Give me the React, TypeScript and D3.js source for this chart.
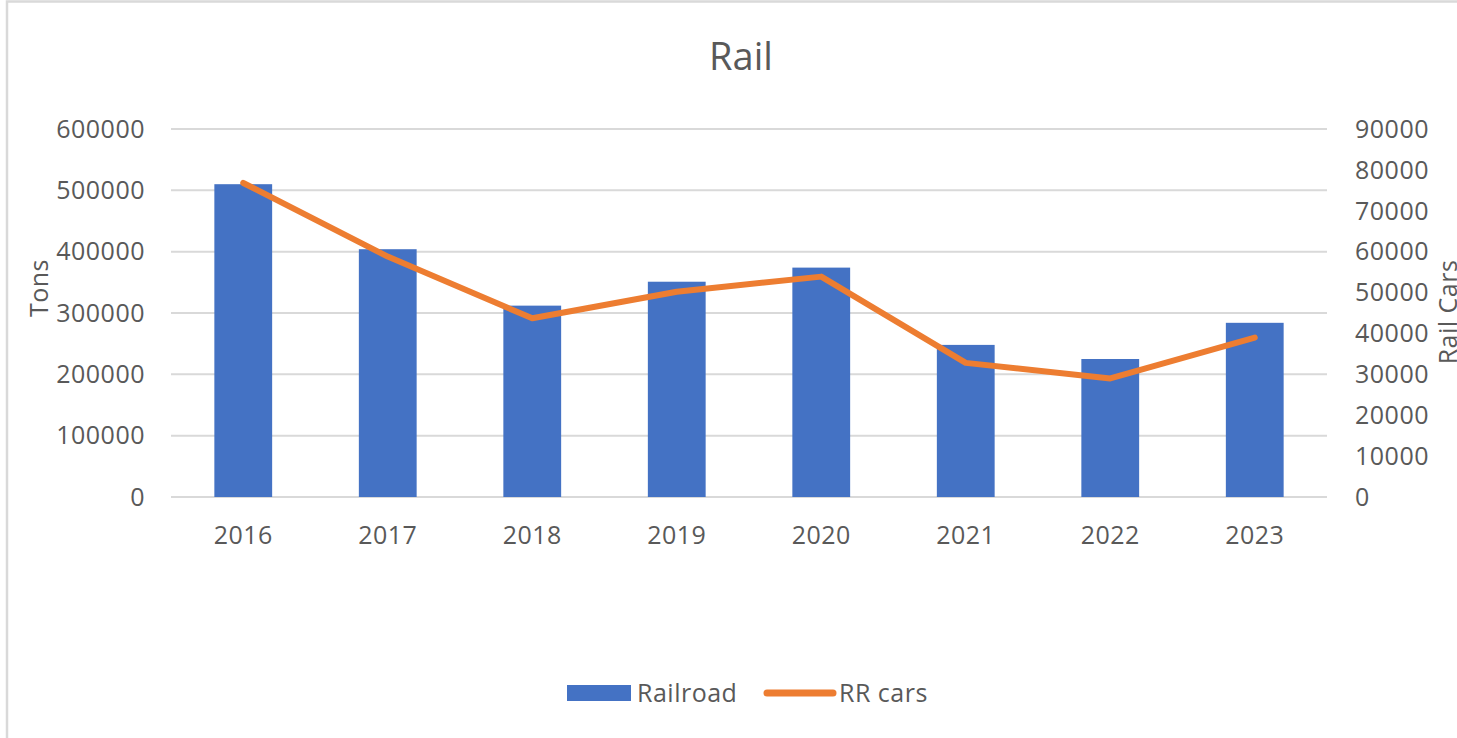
import React from "react";
import * as d3 from "d3";

const years = ["2016", "2017", "2018", "2019", "2020", "2021", "2022", "2023"];
const railroadTons = [510000, 404000, 312000, 351000, 374000, 248000, 225000, 284000];
const rrCars = [76800, 58800, 43700, 50200, 53900, 32800, 29000, 39000];
const leftTicks = [0, 100000, 200000, 300000, 400000, 500000, 600000];
const rightTicks = [0, 10000, 20000, 30000, 40000, 50000, 60000, 70000, 80000, 90000];

const W = 1457;
const H = 738;
const FONT = "'Open Sans', 'Noto Sans', sans-serif";
const TXT = "#595959";
const FS = 25;
const LS = 0.5;

export default function App() {
  const x0 = 171, x1 = 1327, yTop = 129, yBot = 497;
  const band = d3.scaleBand<string>().domain(years).range([x0, x1]);
  const yL = d3.scaleLinear().domain([0, 600000]).range([yBot, yTop]);
  const yR = d3.scaleLinear().domain([0, 90000]).range([yBot, yTop]);
  const cx = (d: string) => (band(d) as number) + band.bandwidth() / 2;
  const barW = band.bandwidth() / 2.5;
  const line = d3
    .line<number>()
    .x((_, i) => cx(years[i]))
    .y((d) => yR(d));

  return (
    <svg width={W} height={H} style={{ position: "absolute", left: 0, top: 0, background: "#fff" }} fontFamily={FONT}>
      <rect x={7} y={1.5} width={W + 20} height={H + 20} fill="#fff" stroke="#d9d9d9" strokeWidth={2.5} />
      <text x={741} y={70} textAnchor="middle" fontSize={38} fill={TXT}>Rail</text>

      {leftTicks.map((t) => (
        <line key={"g" + t} x1={x0} x2={x1} y1={yL(t)} y2={yL(t)} stroke="#d9d9d9" strokeWidth={2} />
      ))}

      {years.map((yr, i) => (
        <rect
          key={"b" + yr}
          x={cx(yr) - barW / 2}
          y={yL(railroadTons[i])}
          width={barW}
          height={yBot - yL(railroadTons[i])}
          fill="#4472C4"
        />
      ))}

      <path d={line(rrCars) || ""} fill="none" stroke="#ED7D31" strokeWidth={6} strokeLinejoin="round" strokeLinecap="round" />

      {leftTicks.map((t) => (
        <text key={"l" + t} x={145} y={yL(t)} dy="0.35em" textAnchor="end" fontSize={FS} letterSpacing={LS} fill={TXT}>
          {t}
        </text>
      ))}
      {rightTicks.map((t) => (
        <text key={"r" + t} x={1355} y={yR(t)} dy="0.35em" textAnchor="start" fontSize={FS} letterSpacing={LS} fill={TXT}>
          {t}
        </text>
      ))}
      {years.map((yr) => (
        <text key={"x" + yr} x={cx(yr)} y={535} dy="0.35em" textAnchor="middle" fontSize={FS} letterSpacing={LS} fill={TXT}>
          {yr}
        </text>
      ))}

      <text transform="translate(48,288) rotate(-90)" textAnchor="middle" fontSize={FS} letterSpacing={LS} fill={TXT}>Tons</text>
      <text transform="translate(1457,312) rotate(-90)" textAnchor="middle" fontSize={FS} letterSpacing={LS} fill={TXT}>Rail Cars</text>

      <rect x={567} y={685} width={64} height={16} fill="#4472C4" />
      <text x={637} y={693} dy="0.35em" fontSize={FS} letterSpacing={LS} fill={TXT}>Railroad</text>
      <line x1={767} x2={833} y1={693} y2={693} stroke="#ED7D31" strokeWidth={7} strokeLinecap="round" />
      <text x={839} y={693} dy="0.35em" fontSize={FS} letterSpacing={LS} fill={TXT}>RR cars</text>
    </svg>
  );
}
